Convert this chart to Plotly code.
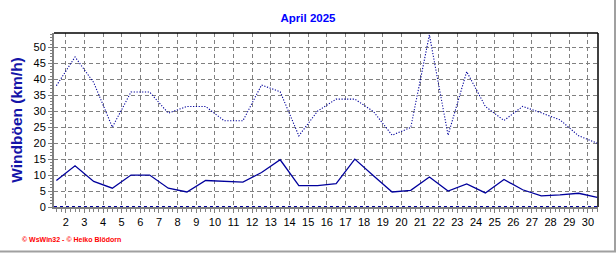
import plotly.graph_objects as go

# Data (April 2025, daily values)
days = list(range(1, 31))
gusts = [38, 47, 39, 25, 36, 36, 29.4, 31.5, 31.5, 27, 27, 38.2, 36.1, 22.3, 30,
         33.8, 33.8, 29.9, 22.5, 24.9, 53.9, 22.5, 42.4, 31.5, 27.1, 31.5, 29.5, 27.3, 22.3, 20]
wind = [8.3, 12.9, 8.0, 5.9, 10.0, 10.0, 5.9, 4.7, 8.3, 8.1, 7.8, 10.8, 14.8, 6.7, 6.7,
        7.3, 15.0, 9.8, 4.7, 5.2, 9.4, 5.0, 7.2, 4.4, 8.6, 5.4, 3.5, 3.8, 4.3, 3.0]
x_ticks = list(range(2, 31))
y_ticks = list(range(0, 51, 5))
title_text = "April 2025"
y_title = "Windböen (km/h)"
credit = "© WsWin32 - © Heiko Blödorn"

# daily values are drawn at midday
xpos = [d + 0.5 for d in days]

line_col = "#00009C"
grid_col = "#808080"
font_fam = "Liberation Sans, Arial, sans-serif"

fig = go.Figure()
fig.add_trace(go.Scatter(x=xpos, y=gusts, mode="lines",
                         line=dict(color=line_col, width=1.1, dash="1.2px,1.6px"),
                         hoverinfo="skip"))
fig.add_trace(go.Scatter(x=xpos, y=wind, mode="lines",
                         line=dict(color=line_col, width=1.3),
                         hoverinfo="skip"))

W, H = 616, 253
L, R, T, B = 54, 18, 33, 46
pw = W - L - R
ph = H - T - B

def px_x(x):
    return (x - L) / pw

def px_y(y):
    return (H - B - y) / ph

fig.update_layout(
    width=W, height=H,
    margin=dict(l=L, r=R, t=T, b=B, pad=0),
    paper_bgcolor="white", plot_bgcolor="white",
    showlegend=False,
    font=dict(family=font_fam, size=11, color="black"),
    title=dict(text="<b>" + title_text + "</b>", x=308 / W, xanchor="center",
               y=1 - 18 / H, yanchor="middle",
               font=dict(family=font_fam, size=11.5, color="#0000FF")),
    xaxis=dict(range=[1.372, 30.54], tickmode="array", tickvals=x_ticks,
               ticktext=[str(v) for v in x_ticks],
               showgrid=True, gridcolor=grid_col, gridwidth=1, griddash="4px,3px",
               showline=True, linecolor=grid_col, linewidth=2,
               ticks="outside", ticklen=4, tickcolor=grid_col, tickwidth=1,
               minor=dict(dtick=0.25, tick0=0, ticks="outside", ticklen=3,
                          tickcolor=grid_col, showgrid=False),
               zeroline=False, fixedrange=True,
               tickfont=dict(size=11, color="black")),
    yaxis=dict(range=[0, 54.5], tickmode="array", tickvals=y_ticks,
               ticktext=[str(v) for v in y_ticks],
               showgrid=True, gridcolor=grid_col, gridwidth=1, griddash="4px,3px",
               showline=True, linecolor=grid_col, linewidth=2,
               ticks="outside", ticklen=4, tickcolor=grid_col, tickwidth=1,
               minor=dict(dtick=1, ticks="outside", ticklen=2,
                          tickcolor=grid_col, showgrid=False),
               zeroline=False, fixedrange=True,
               title=dict(text="<b>" + y_title + "</b>", standoff=7,
                          font=dict(family=font_fam, size=15.5, color="#1414A8")),
               tickfont=dict(size=11, color="black")),
    shapes=[
        # top and right frame
        dict(type="line", xref="paper", yref="paper", x0=0, x1=1, y0=1, y1=1,
             line=dict(color="black", width=1.5)),
        dict(type="line", xref="paper", yref="paper", x0=1, x1=1, y0=0, y1=1,
             line=dict(color="black", width=1.5)),
        # dotted blue base line at 0
        dict(type="line", xref="paper", yref="y", x0=0, x1=1, y0=0, y1=0,
             line=dict(color=line_col, width=2, dash="dot"), layer="above"),
        # grey window border right and bottom
        dict(type="line", xref="paper", yref="paper", x0=px_x(615), x1=px_x(615),
             y0=px_y(0), y1=px_y(252), line=dict(color="#A0A0A0", width=2)),
        dict(type="line", xref="paper", yref="paper", x0=px_x(0), x1=px_x(616),
             y0=px_y(251.5), y1=px_y(251.5), line=dict(color="#A0A0A0", width=2)),
    ],
    annotations=[
        dict(text="<b>" + credit + "</b>", xref="paper", yref="paper",
             x=px_x(20), y=px_y(239),
             xanchor="left", yanchor="middle", showarrow=False,
             font=dict(family=font_fam, size=7, color="#FF0000")),
    ],
)

fig.write_html("out.html", config={"displayModeBar": False})
